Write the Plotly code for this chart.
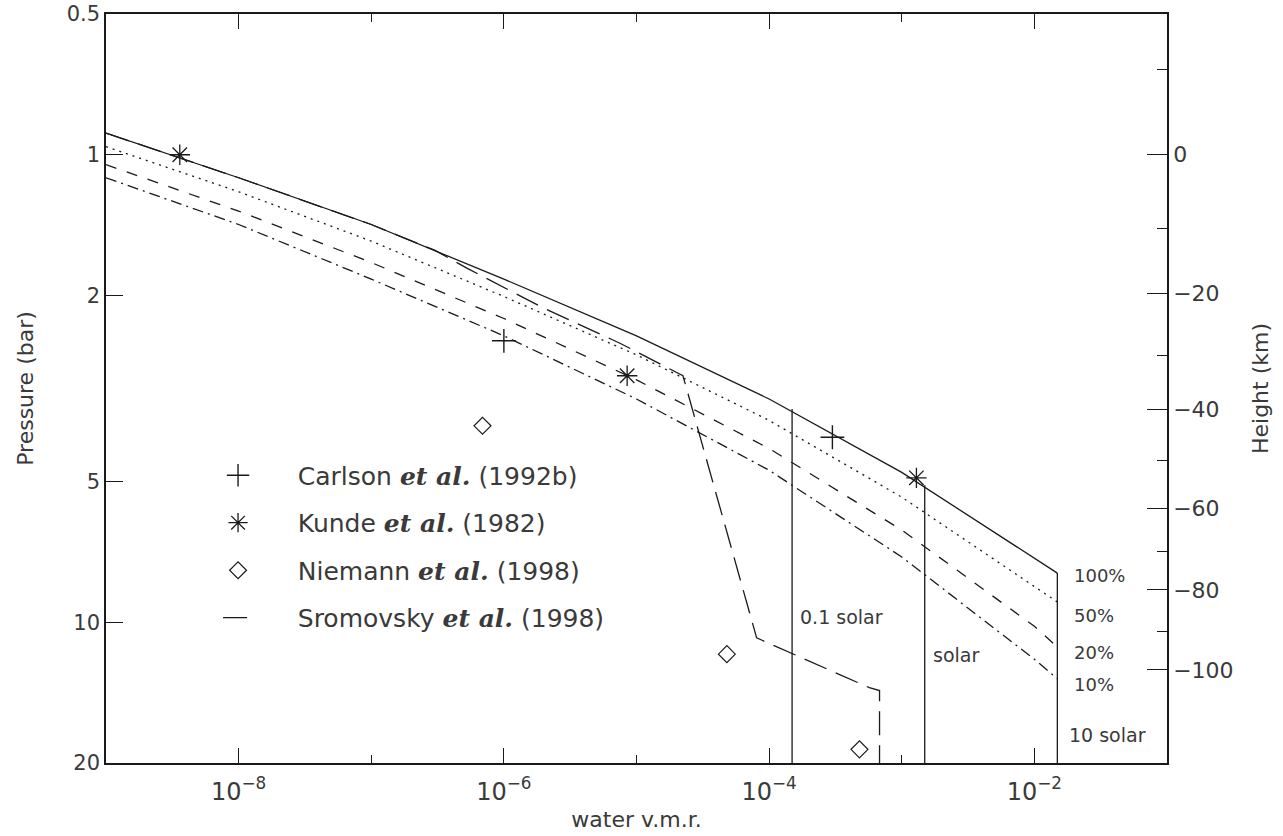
import math
import plotly.graph_objects as go

# ---------------- data ----------------
# saturation curves: water v.m.r. vs pressure (bar)
sat_vmr = [1e-9, 1e-8, 1e-7, 1e-6, 1e-5, 1e-4, 1e-3, 1e-2, 1.49e-2]
p_sat100 = [0.899, 1.12, 1.41, 1.845, 2.44, 3.33, 4.78, 7.29, 7.85]
p_sat50 = [0.961, 1.20, 1.53, 2.01, 2.68, 3.70, 5.40, 8.40, 9.05]
p_sat20 = [1.05, 1.32, 1.70, 2.24, 3.03, 4.25, 6.35, 10.2, 11.3]
p_sat10 = [1.12, 1.41, 1.845, 2.44, 3.33, 4.73, 7.25, 12.0, 13.2]
sat_labels = ["100%", "50%", "20%", "10%"]
sat_label_p = [7.93, 9.65, 11.58, 13.56]
sat_label_vmr = 1.92e-2

# solar-abundance verticals
solar_names = ["0.1 solar", "solar", "10 solar"]
solar_vmr = [1.49e-4, 1.49e-3, 1.49e-2]
solar_ptop = [3.50, 5.09, 7.85]
solar_pbottom = [20.0, 20.0, 20.0]
solar_label_vmr = [1.66e-4, 1.66e-3, 1.76e-2]
solar_label_p = [9.74, 11.75, 17.4]

# Sromovsky et al. (1998) profile
srom_vmr = [1e-9, 1e-8, 1e-7, 3e-7, 5.3e-7, 1.94e-6, 7.5e-6, 2.24e-5, 8.05e-5, 5.7e-4, 6.8e-4, 6.8e-4]
srom_p = [0.899, 1.12, 1.41, 1.60, 1.75, 2.12, 2.53, 2.97, 10.8, 13.8, 14.0, 20.0]

# point measurements
carlson_vmr = [1.0e-6, 3.0e-4]
carlson_p = [2.5, 4.02]
kunde_vmr = [3.6e-9, 8.5e-6, 1.29e-3]
kunde_p = [1.0, 2.97, 4.91]
niemann_vmr = [6.9e-7, 4.8e-5, 4.8e-4]
niemann_p = [3.8, 11.7, 18.7]

# axes
x_range_decades = [-9, -1]
x_major = [1e-8, 1e-6, 1e-4, 1e-2]
x_major_text = ["10<sup>\u22128</sup>", "10<sup>\u22126</sup>", "10<sup>\u22124</sup>", "10<sup>\u22122</sup>"]
x_minor = [1e-7, 1e-5, 1e-3]
p_range = [20, 0.5]
p_ticks = [0.5, 1, 2, 5, 10, 20]
p_tick_text = ["0.5", "1", "2", "5", "10", "20"]
height_major = [0, -20, -40, -60, -80, -100]
height_major_p = [1.0, 1.976, 3.50, 5.70, 8.53, 12.65]
height_minor = [10, -10, -30, -50, -70, -90]
height_minor_p = [0.656, 1.435, 2.682, 4.50, 7.04, 10.49]

# ---------------- figure ----------------
FONT = "DejaVu Sans"
INK = "#1a1a1a"
TXT = "#3a3a3a"
ETAL = "<span style='font-family:DejaVu Serif'><b><i>et al.</i></b></span>"
PAD = "\u00a0" * 5

fig = go.Figure()

sat_series = [p_sat100, p_sat50, p_sat20, p_sat10]
sat_dash = ["solid", "2px,5px", "11px,11px", "11px,5px,2px,5px"]
for ps, dash in zip(sat_series, sat_dash):
    fig.add_trace(go.Scatter(x=sat_vmr, y=ps, mode="lines",
                             line=dict(color=INK, width=1.3, dash=dash),
                             showlegend=False, hoverinfo="skip"))

# vertical solar lines live on the (identically scaled) right-hand height axis
for i in range(len(solar_vmr)):
    fig.add_trace(go.Scatter(x=[solar_vmr[i], solar_vmr[i]],
                             y=[solar_ptop[i], solar_pbottom[i]], mode="lines",
                             yaxis="y2",
                             line=dict(color=INK, width=1.3),
                             showlegend=False, hoverinfo="skip"))

fig.add_trace(go.Scatter(x=carlson_vmr, y=carlson_p, mode="markers",
                         name=PAD + "Carlson " + ETAL + " (1992b)", legendgroup="a",
                         marker=dict(symbol="cross-thin-open", size=17, color=INK,
                                     line=dict(color=INK, width=1.4))))
fig.add_trace(go.Scatter(x=kunde_vmr, y=kunde_p, mode="markers",
                         name=PAD + "Kunde " + ETAL + " (1982)", legendgroup="b",
                         marker=dict(symbol="asterisk-open", size=17, color=INK,
                                     line=dict(color=INK, width=1.3))))
fig.add_trace(go.Scatter(x=niemann_vmr, y=niemann_p, mode="markers",
                         name=PAD + "Niemann " + ETAL + " (1998)", legendgroup="c",
                         marker=dict(symbol="diamond-open", size=13, color=INK,
                                     line=dict(color=INK, width=1.2))))
fig.add_trace(go.Scatter(x=srom_vmr, y=srom_p, mode="lines",
                         name=PAD + "Sromovsky " + ETAL + " (1998)", legendgroup="d",
                         line=dict(color=INK, width=1.3, dash="24px,10px")))

annotations = []
for name, xv, pv in zip(solar_names, solar_label_vmr, solar_label_p):
    annotations.append(dict(x=math.log10(xv), y=math.log10(pv), xref="x", yref="y",
                            text=name, showarrow=False, xanchor="left", yanchor="middle",
                            font=dict(family=FONT, size=19, color=TXT)))
for lab, pv in zip(sat_labels, sat_label_p):
    annotations.append(dict(x=math.log10(sat_label_vmr), y=math.log10(pv), xref="x", yref="y",
                            text=lab, showarrow=False, xanchor="left", yanchor="middle",
                            font=dict(family=FONT, size=18, color=TXT)))

yr = [math.log10(p_range[0]), math.log10(p_range[1])]

fig.update_layout(
    width=1283, height=836,
    margin=dict(l=106, r=116, t=14, b=73, autoexpand=False),
    paper_bgcolor="white", plot_bgcolor="white",
    font=dict(family=FONT, size=20, color=TXT),
    annotations=annotations,
    legend=dict(x=0.1056, y=0.4146, xanchor="left", yanchor="top",
                bgcolor="rgba(0,0,0,0)", traceorder="grouped", tracegroupgap=12,
                font=dict(family=FONT, size=25, color=TXT)),
    xaxis=dict(type="log", range=x_range_decades, showline=True, linecolor=INK, linewidth=1.5,
               mirror="ticks", ticks="inside", ticklen=15, tickwidth=1.3, tickcolor=INK,
               tickmode="array", tickvals=x_major, ticktext=x_major_text,
               minor=dict(tickmode="array", tickvals=x_minor, ticks="inside", ticklen=8,
                          tickwidth=1.3, tickcolor=INK, showgrid=False),
               showgrid=False, zeroline=False, automargin=False, ticklabelstandoff=6,
               tickfont=dict(family=FONT, size=24, color=TXT),
               title=dict(text="water v.m.r.", font=dict(family=FONT, size=22, color=TXT),
                          standoff=7)),
    yaxis=dict(type="log", range=yr, showline=True, linecolor=INK, linewidth=1.5,
               mirror=False, ticks="inside", ticklen=17, tickwidth=1.3, tickcolor=INK,
               tickmode="array", tickvals=p_ticks, ticktext=p_tick_text,
               showgrid=False, zeroline=False, automargin=False,
               tickfont=dict(family=FONT, size=21, color=TXT),
               title=dict(text="Pressure (bar)", font=dict(family=FONT, size=22, color=TXT),
                          standoff=27)),
    yaxis2=dict(type="log", range=yr, overlaying="y", side="right", showline=True,
                linecolor=INK, linewidth=1.5, ticks="inside", ticklen=20, tickwidth=1.3,
                tickcolor=INK, tickmode="array", tickvals=height_major_p,
                ticktext=["\u2212" + str(-h) if h < 0 else str(h) for h in height_major],
                minor=dict(tickmode="array", tickvals=height_minor_p, ticks="inside",
                           ticklen=10, tickwidth=1.3, tickcolor=INK, showgrid=False),
                showgrid=False, zeroline=False, automargin=False,
                tickfont=dict(family=FONT, size=22, color=TXT),
                title=dict(text="Height (km)", font=dict(family=FONT, size=22, color=TXT),
                           standoff=20)),
)

fig.write_html("out.html",
               config={"displayModeBar": False},
               post_script="document.body.style.margin='0';document.body.style.overflow='hidden';")
